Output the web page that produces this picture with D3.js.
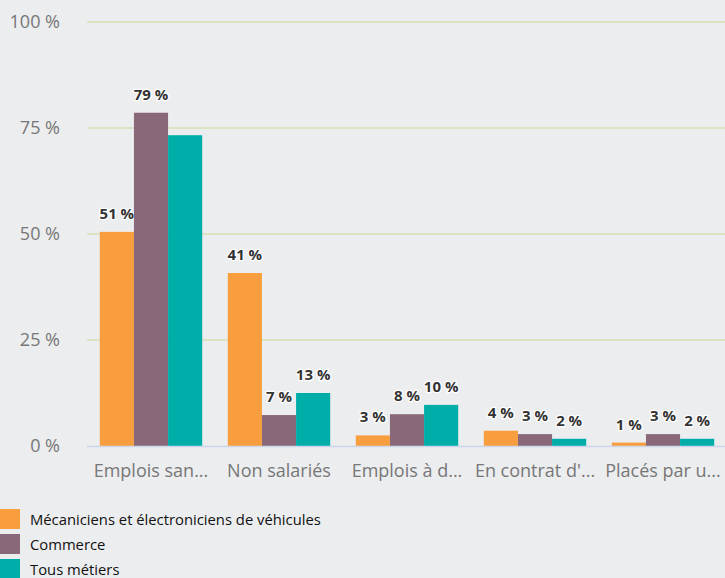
<!DOCTYPE html>
<html>
<head>
<meta charset="utf-8">
<script src="https://cdn.jsdelivr.net/npm/d3@7"></script>
<style>
  body { margin: 0; background: #ecedef; font-family: "Open Sans", sans-serif; }
  svg { display: block; }
</style>
</head>
<body>
<div id="chart"></div>
<script>
const categories = ["Emplois san...", "Non salariés", "Emplois à d...", "En contrat d'...", "Placés par u..."];
const seriesNames = ["Mécaniciens et électroniciens de véhicules", "Commerce", "Tous métiers"];
const mecaniciens = [50.5, 40.8, 2.5, 3.6, 0.8];
const commerce = [78.6, 7.3, 7.5, 2.8, 2.8];
const tousMetiers = [73.3, 12.5, 9.7, 1.7, 1.7];
const showLabel = [[true, true, true, true, true], [true, true, true, true, true], [false, true, true, true, true]];
const yTicks = [0, 25, 50, 75, 100];
const colors = ["#f99e3f", "#896879", "#00aea9"];

const width = 725, height = 578;
const margin = { top: 22, right: -2, bottom: 132, left: 87 };
const series = [mecaniciens, commerce, tousMetiers];

const svg = d3.select("#chart").append("svg").attr("width", width).attr("height", height);

const x = d3.scaleBand().domain(categories).range([margin.left, width - margin.right]).paddingInner(0.2).paddingOuter(0.1);
const xs = d3.scaleBand().domain(d3.range(series.length)).range([0, x.bandwidth()]);
const y = d3.scaleLinear().domain([0, 100]).range([height - margin.bottom, margin.top]);

// gridlines
svg.append("g").selectAll("line").data(yTicks.filter(d => d > 0)).enter().append("line")
  .attr("x1", margin.left).attr("x2", width)
  .attr("y1", d => y(d)).attr("y2", d => y(d))
  .attr("stroke", "#d3e2b3").attr("stroke-width", 1.5);

// y labels
svg.append("g").selectAll("text").data(yTicks).enter().append("text")
  .attr("x", 60).attr("y", d => y(d)).attr("dy", "0.35em")
  .attr("text-anchor", "end").attr("fill", "#777").style("font-size", "18px")
  .text(d => d + " %");

// bars
series.forEach((vals, si) => {
  svg.append("g").selectAll("rect").data(vals).enter().append("rect")
    .attr("x", (d, i) => x(categories[i]) + xs(si))
    .attr("y", d => y(d))
    .attr("width", xs.bandwidth())
    .attr("height", d => y(0) - y(d))
    .attr("fill", colors[si]);
  const labels = vals.map((v, i) => ({ v, i })).filter(d => showLabel[si][d.i]);
  svg.append("g").selectAll("text").data(labels).enter().append("text")
    .attr("x", d => x(categories[d.i]) + xs(si) + xs.bandwidth() / 2)
    .attr("y", d => y(d.v) - 13)
    .attr("text-anchor", "middle")
    .style("font-size", "15px").style("font-weight", "bold")
    .attr("fill", "#333").attr("stroke", "#fff").attr("stroke-width", 2.5)
    .attr("paint-order", "stroke").attr("stroke-linejoin", "round")
    .text(d => Math.round(d.v) + " %");
});

// x axis line
svg.append("line").attr("x1", margin.left).attr("x2", width)
  .attr("y1", y(0) + 0.5).attr("y2", y(0) + 0.5)
  .attr("stroke", "#ccd6eb").attr("stroke-width", 1.5);

// x labels
svg.append("g").selectAll("text").data(categories).enter().append("text")
  .attr("x", d => x(d) + x.bandwidth() / 2).attr("y", y(0) + 31)
  .attr("text-anchor", "middle").attr("fill", "#777").style("font-size", "18px")
  .text(d => d);

// legend
const legend = svg.append("g").selectAll("g").data(seriesNames).enter().append("g")
  .attr("transform", (d, i) => `translate(0, ${509 + i * 25})`);
legend.append("rect").attr("width", 20).attr("height", 20).attr("fill", (d, i) => colors[i]);
legend.append("text").attr("x", 30).attr("y", 11).attr("dy", "0.35em")
  .style("font-size", "14.8px").attr("fill", "#111").text(d => d);
</script>
</body>
</html>
